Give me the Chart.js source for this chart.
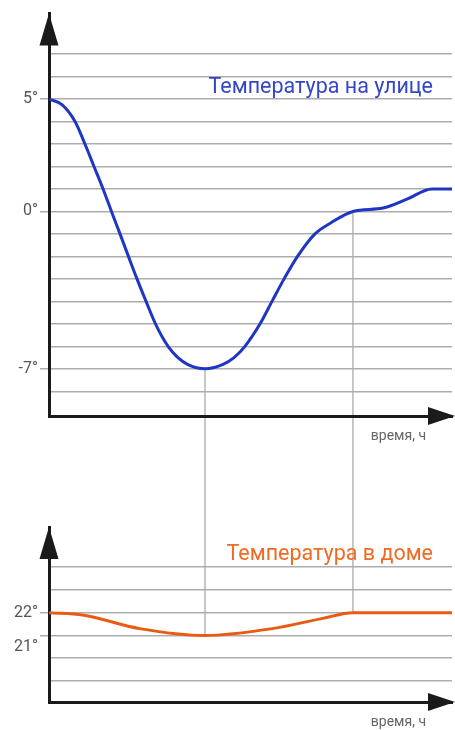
<!DOCTYPE html>
<html>
<head>
<meta charset="utf-8">
<script src="https://cdn.jsdelivr.net/npm/chart.js@4"></script>
<style>
  html, body { margin: 0; padding: 0; background: #fff; }
  #top { position: absolute; left: 0; top: 0; width: 455px; height: 450px; }
  #bottom { position: absolute; left: 0; top: 450px; width: 455px; height: 280px; }
</style>
</head>
<body>
<div id="top"><canvas id="outChart"></canvas></div>
<div id="bottom"><canvas id="inChart"></canvas></div>
<script>
// время, ч  /  температура на улице
const outsideHours = [0, 0.77, 1.55, 2.14, 2.68, 3.22, 3.72, 4.23, 4.73, 5.24, 5.78, 6.34, 7.09, 7.68, 8.25, 9.29,
                      10.36, 11.02, 11.67, 12.57, 13.28, 14.0, 14.8, 15.84, 16.8, 18.1, 19.89, 21.32, 22.8, 24];
const outsideTemp  = [5, 4.75, 4, 3, 2, 1, 0, -1, -2, -3, -4, -5, -6, -6.5, -6.8, -7,
                      -6.8, -6.5, -6, -5, -4, -3, -2, -1, -0.5, 0, 0.15, 0.55, 1, 1];

// температура в доме
const insideHours = [0, 2.0, 5.4, 9.29, 13.3, 16.3, 18.1, 24];
const insideTemp  = [22, 21.9, 21.3, 21, 21.3, 21.75, 22, 22];

// сетка и подписи осей
const outsideGrid   = [7, 6, 5, 4, 3, 2, 1, 0, -1, -2, -3, -4, -5, -6, -7, -8];
const outsideLabels = [5, 0, -7];
const insideGrid    = [24, 23, 22, 21, 20, 19];
const insideLabels  = [22, 21];

// моменты, связанные вертикальными линиями
const markHours   = [9.29, 18.1];
const markOutside = [-7, 0];
const markInside  = [21, 22];

const FONT = 'Roboto, "Noto Sans", sans-serif';
const AXIS = '#1a1a1a';
const GRID = '#adadad';

// стрелки, направляющие и подписи
const decor = {
  id: 'decor',
  beforeDraw(chart, args, o) {
    const { ctx, scales: { x, y } } = chart;
    ctx.save();
    ctx.strokeStyle = '#b6b6b6';
    ctx.lineWidth = 1.5;
    o.marks.forEach((v, i) => {
      const px = x.getPixelForValue(markHours[i]);
      ctx.beginPath();
      ctx.moveTo(px, y.getPixelForValue(v));
      ctx.lineTo(px, o.down ? chart.height : 0);
      ctx.stroke();
    });
    ctx.restore();
  },
  afterDraw(chart, args, o) {
    const { ctx, chartArea: a } = chart;
    ctx.save();
    ctx.fillStyle = AXIS;
    // вверх
    ctx.beginPath();
    ctx.moveTo(a.left, a.top);
    ctx.lineTo(a.left + 9.5, a.top + 32);
    ctx.lineTo(a.left - 9.5, a.top + 32);
    ctx.closePath();
    ctx.fill();
    // вправо
    ctx.beginPath();
    ctx.moveTo(chart.width, a.bottom);
    ctx.lineTo(chart.width - 27, a.bottom - 9);
    ctx.lineTo(chart.width - 27, a.bottom + 9);
    ctx.closePath();
    ctx.fill();

    ctx.textAlign = 'right';
    ctx.textBaseline = 'alphabetic';
    ctx.font = '21.5px ' + FONT;
    ctx.fillStyle = o.titleColor;
    ctx.fillText(o.title, 433, o.titleY);

    ctx.font = '14px ' + FONT;
    ctx.fillStyle = '#666';
    ctx.fillText('время, ч', 426, o.captionY);
    ctx.restore();
  }
};

function makeChart(id, hours, temps, color, c) {
  return new Chart(document.getElementById(id), {
    type: 'line',
    data: {
      datasets: [{
        data: hours.map((h, i) => ({ x: h, y: temps[i] })),
        borderColor: color,
        borderWidth: 3,
        pointRadius: 0,
        cubicInterpolationMode: 'monotone',
        fill: false
      }]
    },
    options: {
      responsive: true,
      maintainAspectRatio: false,
      animation: false,
      layout: { padding: { top: c.top, right: 3, left: 0, bottom: 0 } },
      plugins: {
        legend: { display: false },
        tooltip: { enabled: false },
        decor: c.decor
      },
      scales: {
        x: {
          type: 'linear', min: 0, max: 24,
          ticks: { display: false },
          grid: { display: false },
          border: { display: true, color: AXIS, width: 3 },
          afterFit: s => { s.height = c.xHeight; }
        },
        y: {
          min: c.min, max: c.max,
          afterBuildTicks: ax => { ax.ticks = c.grid.map(v => ({ value: v })); },
          afterFit: s => { s.width = 49; },
          ticks: {
            autoSkip: false,
            padding: 2,
            color: '#555',
            font: { family: FONT, size: 16, lineHeight: 1.45 },
            callback: v => c.labels.includes(v) ? c.format(v) : ''
          },
          grid: {
            color: GRID,
            lineWidth: 1.5,
            tickLength: 9,
            tickColor: ctx => ctx.tick && c.labels.includes(ctx.tick.value) ? GRID : 'rgba(0,0,0,0)'
          },
          border: { color: AXIS, width: 3 }
        }
      }
    },
    plugins: [decor]
  });
}

makeChart('outChart', outsideHours, outsideTemp, '#1f36c4', {
  top: 12, xHeight: 34, min: -9.1, max: 8.8,
  grid: outsideGrid, labels: outsideLabels,
  format: v => v + '°',
  decor: { marks: markOutside, down: true, title: 'Температура на улице', titleColor: '#3346c8', titleY: 93, captionY: 440 }
});

makeChart('inChart', insideHours, insideTemp, '#ea5a12', {
  top: 77, xHeight: 28, min: 18.08, max: 25.76,
  grid: insideGrid, labels: insideLabels,
  format: v => v === 21 ? ['', v + '°'] : v + '°',
  decor: { marks: markInside, down: false, title: 'Температура в доме', titleColor: '#f26a22', titleY: 110, captionY: 276 }
});
</script>
</body>
</html>
